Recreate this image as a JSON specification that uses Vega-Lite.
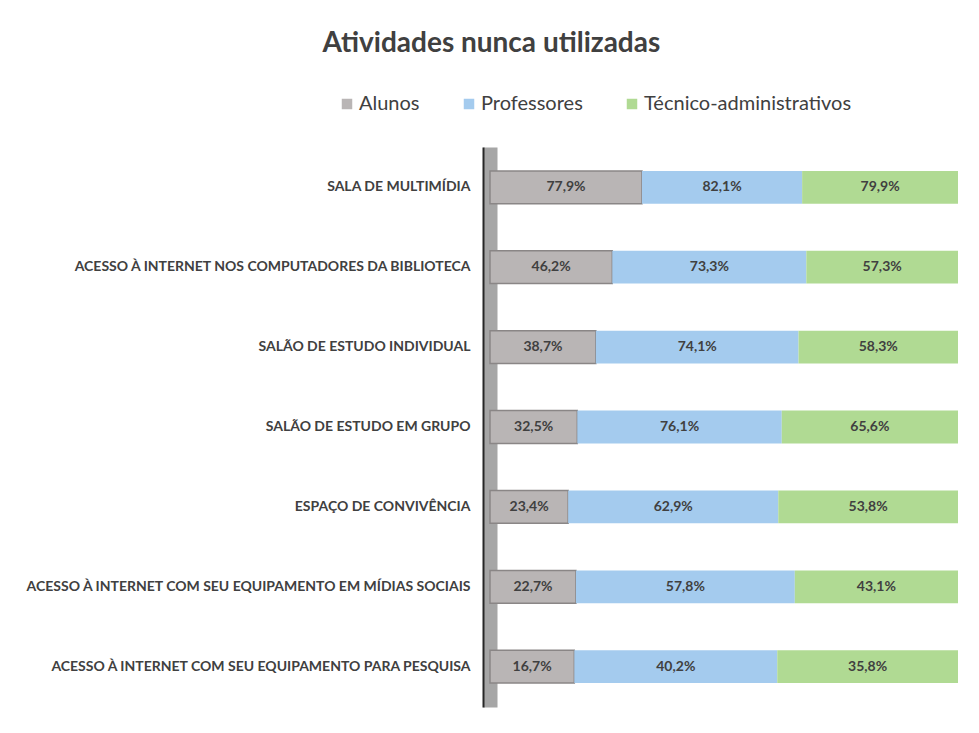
{
  "$schema": "https://vega.github.io/schema/vega-lite/v6.json",
  "width": 468,
  "height": 560,
  "autosize": {"type": "none"},
  "padding": {"left": 490, "top": 147, "right": 21, "bottom": 26},
  "background": "white",
  "title": {
    "text": "Atividades nunca utilizadas",
    "font": "Lato",
    "fontSize": 28,
    "fontWeight": "bold",
    "color": "#404040",
    "anchor": "middle",
    "frame": "bounds",
    "offset": 36
  },
  "config": {
    "view": {"stroke": null},
    "locale": {"number": {"decimal": ",", "thousands": ".", "grouping": [3], "currency": ["R$", ""]}}
  },
  "data": {
    "values": [
      {"atividade": "SALA DE MULTIMÍDIA", "serie": "Alunos", "valor": 0.779},
      {"atividade": "SALA DE MULTIMÍDIA", "serie": "Professores", "valor": 0.821},
      {"atividade": "SALA DE MULTIMÍDIA", "serie": "Técnico-administrativos", "valor": 0.799},
      {"atividade": "ACESSO À INTERNET NOS COMPUTADORES DA BIBLIOTECA", "serie": "Alunos", "valor": 0.462},
      {"atividade": "ACESSO À INTERNET NOS COMPUTADORES DA BIBLIOTECA", "serie": "Professores", "valor": 0.733},
      {"atividade": "ACESSO À INTERNET NOS COMPUTADORES DA BIBLIOTECA", "serie": "Técnico-administrativos", "valor": 0.573},
      {"atividade": "SALÃO DE ESTUDO INDIVIDUAL", "serie": "Alunos", "valor": 0.387},
      {"atividade": "SALÃO DE ESTUDO INDIVIDUAL", "serie": "Professores", "valor": 0.741},
      {"atividade": "SALÃO DE ESTUDO INDIVIDUAL", "serie": "Técnico-administrativos", "valor": 0.583},
      {"atividade": "SALÃO DE ESTUDO EM GRUPO", "serie": "Alunos", "valor": 0.325},
      {"atividade": "SALÃO DE ESTUDO EM GRUPO", "serie": "Professores", "valor": 0.761},
      {"atividade": "SALÃO DE ESTUDO EM GRUPO", "serie": "Técnico-administrativos", "valor": 0.656},
      {"atividade": "ESPAÇO DE CONVIVÊNCIA", "serie": "Alunos", "valor": 0.234},
      {"atividade": "ESPAÇO DE CONVIVÊNCIA", "serie": "Professores", "valor": 0.629},
      {"atividade": "ESPAÇO DE CONVIVÊNCIA", "serie": "Técnico-administrativos", "valor": 0.538},
      {"atividade": "ACESSO À INTERNET COM SEU EQUIPAMENTO EM MÍDIAS SOCIAIS", "serie": "Alunos", "valor": 0.227},
      {"atividade": "ACESSO À INTERNET COM SEU EQUIPAMENTO EM MÍDIAS SOCIAIS", "serie": "Professores", "valor": 0.578},
      {"atividade": "ACESSO À INTERNET COM SEU EQUIPAMENTO EM MÍDIAS SOCIAIS", "serie": "Técnico-administrativos", "valor": 0.431},
      {"atividade": "ACESSO À INTERNET COM SEU EQUIPAMENTO PARA PESQUISA", "serie": "Alunos", "valor": 0.167},
      {"atividade": "ACESSO À INTERNET COM SEU EQUIPAMENTO PARA PESQUISA", "serie": "Professores", "valor": 0.402},
      {"atividade": "ACESSO À INTERNET COM SEU EQUIPAMENTO PARA PESQUISA", "serie": "Técnico-administrativos", "valor": 0.358}
    ]
  },
  "resolve": {"axis": {"y": "independent"}},
  "layer": [
    {
      "mark": {"type": "bar"},
      "encoding": {
        "y": {
          "field": "atividade",
          "type": "nominal",
          "sort": null,
          "title": null,
          "scale": {"paddingInner": 0.59, "paddingOuter": 0.3},
          "axis": {
            "ticks": false,
            "domain": true,
            "domainColor": "#a6a6a6",
            "domainWidth": 14,
            "labelFont": "Lato",
            "labelFontSize": 14,
            "labelFontWeight": "bold",
            "labelColor": "#404040",
            "labelPadding": 20,
            "labelLimit": 480
          }
        },
        "x": {"field": "valor", "type": "quantitative", "stack": "normalize", "axis": null},
        "order": {"field": "serie", "sort": "ascending"},
        "color": {
          "field": "serie",
          "type": "nominal",
          "scale": {"domain": ["Alunos", "Professores", "Técnico-administrativos"], "range": ["#b9b5b5", "#a4cbee", "#b0da93"]},
          "legend": {
            "title": null,
            "orient": "none",
            "direction": "horizontal",
            "legendX": -153,
            "legendY": -53,
            "symbolType": "square",
            "symbolSize": 110,
            "labelFont": "Lato",
            "labelFontSize": 20,
            "labelColor": "#404040",
            "labelOffset": 2,
            "labelLimit": 400,
            "columnPadding": 39
          }
        },
        "stroke": {
          "condition": {"test": "datum.serie === 'Alunos'", "value": "#8a8686"},
          "value": null
        },
        "strokeWidth": {"value": 1.5}
      }
    },
    {
      "mark": {"type": "text", "font": "Lato", "fontSize": 14, "fontWeight": "bold", "color": "#404040"},
      "encoding": {
        "y": {
          "field": "atividade",
          "type": "nominal",
          "sort": null,
          "title": null,
          "axis": {
            "ticks": false,
            "labels": false,
            "domain": true,
            "domainColor": "#262626",
            "domainWidth": 2,
            "offset": 7,
            "orient": "left"
          }
        },
        "x": {"field": "valor", "type": "quantitative", "stack": "normalize", "bandPosition": 0.5},
        "order": {"field": "serie", "sort": "ascending"},
        "detail": {"field": "serie"},
        "text": {"field": "valor", "type": "quantitative", "format": ".1%"}
      }
    }
  ]
}
